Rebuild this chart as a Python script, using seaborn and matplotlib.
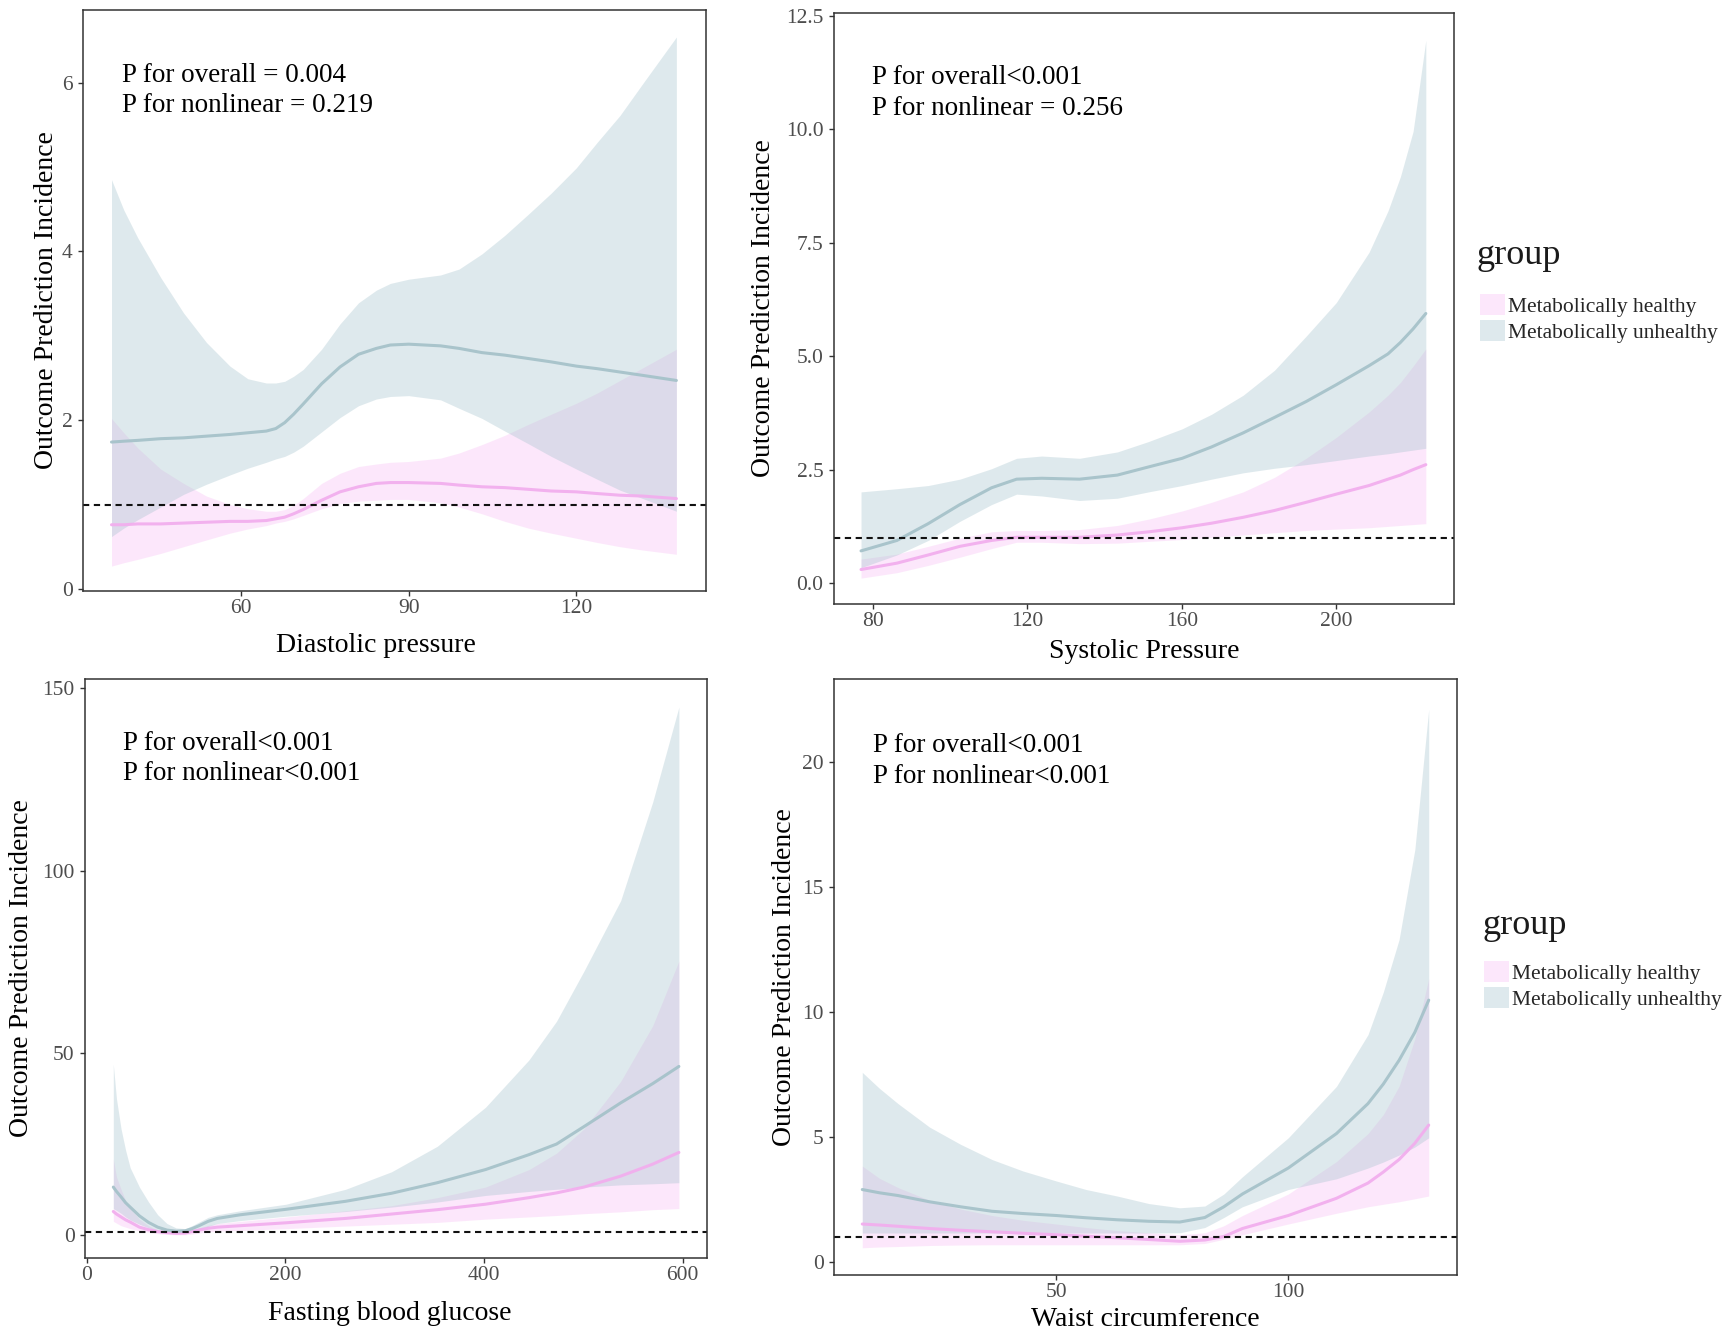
import numpy as np
import pandas as pd
import matplotlib
matplotlib.use("Agg")
import matplotlib.pyplot as plt
from matplotlib.patches import Patch
import seaborn as sns

# ---------------- data ----------------
groups = ["Metabolically healthy", "Metabolically unhealthy"]

# Diastolic pressure
dia_x = [36.8, 39, 41.5, 45.6, 49.7, 53.8, 58, 61.2, 64.5, 66.2, 67.8, 69.4, 71.1, 74.4, 77.7, 81, 84.2, 86.7,
         90, 95.7, 99, 103.1, 107.2, 111.4, 115.5, 120, 123.7, 127.8, 131.9, 137.9]
dia_h_fit = [0.76, 0.76, 0.77, 0.77, 0.78, 0.79, 0.80, 0.80, 0.81, 0.83, 0.85, 0.89, 0.94, 1.05, 1.15, 1.21, 1.25, 1.26,
             1.26, 1.25, 1.23, 1.21, 1.20, 1.18, 1.16, 1.15, 1.13, 1.11, 1.10, 1.07]
dia_h_lo = [0.27, 0.31, 0.35, 0.42, 0.50, 0.58, 0.66, 0.71, 0.75, 0.78, 0.80, 0.83, 0.87, 0.95, 1.01, 1.04, 1.05, 1.06,
            1.06, 1.02, 0.97, 0.89, 0.80, 0.72, 0.66, 0.60, 0.55, 0.50, 0.46, 0.41]
dia_h_hi = [2.02, 1.85, 1.67, 1.42, 1.25, 1.10, 1.00, 0.95, 0.92, 0.92, 0.94, 0.99, 1.07, 1.25, 1.37, 1.45, 1.48, 1.50,
            1.51, 1.55, 1.61, 1.71, 1.82, 1.95, 2.07, 2.20, 2.32, 2.47, 2.62, 2.84]
dia_u_fit = [1.74, 1.75, 1.76, 1.78, 1.79, 1.81, 1.83, 1.85, 1.87, 1.90, 1.97, 2.07, 2.19, 2.43, 2.63, 2.78, 2.85, 2.89,
             2.90, 2.88, 2.85, 2.80, 2.77, 2.73, 2.69, 2.64, 2.61, 2.57, 2.53, 2.47]
dia_u_lo = [0.62, 0.72, 0.82, 0.97, 1.12, 1.24, 1.35, 1.43, 1.50, 1.54, 1.57, 1.62, 1.69, 1.86, 2.03, 2.17, 2.25, 2.28,
            2.29, 2.24, 2.14, 2.02, 1.87, 1.72, 1.57, 1.42, 1.30, 1.17, 1.07, 0.92]
dia_u_hi = [4.85, 4.49, 4.16, 3.69, 3.27, 2.92, 2.64, 2.49, 2.44, 2.44, 2.46, 2.52, 2.60, 2.84, 3.14, 3.39, 3.54, 3.62,
            3.67, 3.72, 3.79, 3.97, 4.19, 4.44, 4.69, 4.99, 5.29, 5.61, 5.99, 6.54]

# Systolic pressure
sys_x = [76.9, 86.2, 94.3, 102.5, 110.7, 117.2, 123.7, 133.5, 143.3, 151.4, 160.1, 167.7, 175.9, 184,
         192.2, 200, 208.5, 213.4, 216.6, 219.9, 223.2]
sys_h_fit = [0.30, 0.44, 0.62, 0.81, 0.94, 1.01, 1.01, 1.01, 1.06, 1.13, 1.22, 1.32, 1.45, 1.60,
             1.78, 1.96, 2.15, 2.29, 2.38, 2.50, 2.61]
sys_h_lo = [0.11, 0.23, 0.39, 0.57, 0.76, 0.90, 0.90, 0.87, 0.88, 0.92, 0.96, 1.01, 1.06, 1.11,
            1.16, 1.19, 1.22, 1.25, 1.27, 1.29, 1.31]
sys_h_hi = [0.53, 0.64, 0.81, 0.99, 1.13, 1.16, 1.16, 1.18, 1.27, 1.41, 1.59, 1.78, 2.01, 2.33,
            2.75, 3.21, 3.77, 4.14, 4.42, 4.78, 5.16]
sys_u_fit = [0.71, 0.94, 1.31, 1.73, 2.10, 2.29, 2.31, 2.29, 2.38, 2.56, 2.75, 3.00, 3.31, 3.65,
             4.00, 4.37, 4.79, 5.05, 5.30, 5.60, 5.94]
sys_u_lo = [0.34, 0.62, 0.94, 1.36, 1.73, 1.96, 1.92, 1.82, 1.87, 2.01, 2.15, 2.29, 2.43, 2.53,
            2.61, 2.70, 2.80, 2.85, 2.89, 2.93, 2.97]
sys_u_hi = [2.01, 2.08, 2.15, 2.29, 2.52, 2.75, 2.80, 2.75, 2.89, 3.12, 3.40, 3.72, 4.14, 4.69,
            5.44, 6.18, 7.29, 8.20, 8.95, 9.95, 11.96]

# Fasting blood glucose
fbg_x = [26.8, 30, 34.6, 39.2, 43.8, 53.1, 62.3, 71.5, 80.8, 90, 99.2, 106.1, 113.1, 122.3, 131.5,
         154.6, 200.7, 260.7, 306.9, 353, 401.5, 445.3, 473, 500.7, 537.6, 569.9, 596.2]
fbg_h_fit = [6.5, 5.8, 5.0, 4.2, 3.6, 2.2, 1.5, 1.0, 0.7, 0.5, 0.6, 1.0, 1.4, 1.9, 2.2,
             2.6, 3.4, 4.6, 5.8, 7.0, 8.5, 10.3, 11.6, 13.2, 16.2, 19.5, 22.7]
fbg_h_lo = [3.8, 3.3, 2.6, 2.2, 1.8, 1.2, 0.8, 0.4, 0.2, 0.1, 0.1, 0.3, 0.6, 0.9, 1.1,
            1.3, 1.8, 2.5, 3.0, 3.5, 4.4, 5.0, 5.4, 5.9, 6.4, 7.0, 7.3]
fbg_h_hi = [20.9, 16.0, 12.6, 9.5, 7.3, 4.4, 2.6, 1.4, 0.9, 0.8, 0.8, 1.3, 2.0, 2.7, 3.2,
            3.8, 5.0, 6.7, 8.1, 10.3, 13.2, 18.0, 22.5, 29.2, 42.2, 57.5, 75.2]
fbg_u_fit = [13.2, 12.0, 10.5, 8.9, 7.7, 5.3, 3.5, 2.2, 1.4, 1.1, 1.2, 1.8, 2.6, 3.8, 4.6,
             5.6, 7.1, 9.3, 11.5, 14.4, 18.0, 22.1, 25.0, 29.8, 36.3, 41.6, 46.3]
fbg_u_lo = [7.3, 6.8, 6.0, 5.0, 4.2, 3.0, 2.0, 1.1, 0.7, 0.5, 0.5, 0.9, 1.4, 2.4, 3.2,
            4.0, 5.2, 6.5, 7.7, 9.1, 10.9, 12.0, 12.6, 13.2, 13.8, 14.1, 14.4]
fbg_u_hi = [46.9, 37.4, 29.2, 23.3, 18.5, 13.2, 9.1, 5.6, 3.2, 2.0, 1.8, 2.6, 3.6, 4.9, 5.6,
            6.7, 8.5, 12.6, 17.4, 24.4, 35.1, 48.1, 58.7, 72.5, 91.8, 118.9, 144.9]

# Waist circumference
wc_x = [8.1, 11.8, 15.8, 22.6, 29.3, 36.1, 42.8, 50, 56.4, 63.1, 69.9, 76.6, 82, 86.1, 90.1,
        100, 110.4, 117.2, 120.5, 123.9, 127.3, 130.3]
wc_h_fit = [1.52, 1.48, 1.43, 1.34, 1.27, 1.21, 1.15, 1.09, 1.03, 0.97, 0.90, 0.83, 0.88, 1.02, 1.34,
            1.86, 2.55, 3.16, 3.60, 4.10, 4.75, 5.48]
wc_h_lo = [0.57, 0.60, 0.62, 0.66, 0.68, 0.69, 0.69, 0.69, 0.69, 0.69, 0.69, 0.69, 0.74, 0.91, 1.09,
           1.52, 1.95, 2.21, 2.31, 2.41, 2.53, 2.64]
wc_h_hi = [3.84, 3.35, 2.98, 2.47, 2.12, 1.86, 1.67, 1.52, 1.38, 1.26, 1.17, 1.09, 1.17, 1.45, 1.86,
           2.72, 4.02, 5.14, 5.90, 7.03, 8.93, 11.34]
wc_u_fit = [2.90, 2.77, 2.66, 2.41, 2.21, 2.03, 1.94, 1.86, 1.77, 1.69, 1.63, 1.60, 1.78, 2.21, 2.72,
            3.76, 5.14, 6.34, 7.12, 8.07, 9.19, 10.48]
wc_u_lo = [1.16, 1.16, 1.16, 1.16, 1.16, 1.16, 1.16, 1.16, 1.16, 1.16, 1.16, 1.17, 1.38, 1.78, 2.21,
           2.90, 3.33, 3.76, 4.00, 4.28, 4.60, 4.97]
wc_u_hi = [7.59, 6.95, 6.34, 5.40, 4.71, 4.10, 3.64, 3.24, 2.90, 2.64, 2.34, 2.17, 2.24, 2.72, 3.41,
           4.97, 7.03, 9.10, 10.80, 12.90, 16.50, 22.12]

panel_xlabels = ["Diastolic pressure", "Systolic Pressure", "Fasting blood glucose", "Waist circumference"]
panel_p_overall = ["P for overall = 0.004", "P for overall<0.001", "P for overall<0.001", "P for overall<0.001"]
panel_p_nonlin = ["P for nonlinear = 0.219", "P for nonlinear = 0.256", "P for nonlinear<0.001", "P for nonlinear<0.001"]
panel_xticks = [[60, 90, 120], [80, 120, 160, 200], [0, 200, 400, 600], [50, 100]]
panel_yticks = [[0, 2, 4, 6], [0.0, 2.5, 5.0, 7.5, 10.0, 12.5], [0, 50, 100, 150], [0, 5, 10, 15, 20]]
panel_ytick_labels = [["0", "2", "4", "6"], ["0.0", "2.5", "5.0", "7.5", "10.0", "12.5"],
                      ["0", "50", "100", "150"], ["0", "5", "10", "15", "20"]]
ref_line = 1.0

# ---------------- style ----------------
sns.set_style("white")
plt.rcParams["font.family"] = ["Liberation Serif", "DejaVu Serif"]

W, H = 1724, 1335
fig = plt.figure(figsize=(W / 100, H / 100), dpi=100)

# axes boxes in pixels: (left, top, right, bottom)
boxes = [(83, 10, 706, 591), (834, 13, 1454, 604), (85, 679, 707, 1258), (834, 679, 1457, 1275)]
xlims = [(31.7, 143.2), (69.9, 230.5), (-1.7, 624.5), (2.0, 136.4)]
ylims = [(-0.025, 6.86), (-0.46, 12.56), (-6.26, 152.6), (-0.52, 23.33)]
ylab_x = [-0.038, -0.094, -0.0815, -0.0595]
xlab_pos = [(0.470, -0.072), (0.5, -0.060), (0.49, -0.075), (0.5, -0.054)]
txt_pos = [(0.063, 0.876, 0.825), (0.061, 0.880, 0.828), (0.061, 0.877, 0.826), (0.063, 0.877, 0.826)]

pink_base = "#F5A3F0"
blue_base = "#A3C2CC"
line_colors = {groups[0]: "#F2AEEE", groups[1]: "#A6C2CA"}

panels = [
    (dia_x, dia_h_fit, dia_h_lo, dia_h_hi, dia_u_fit, dia_u_lo, dia_u_hi),
    (sys_x, sys_h_fit, sys_h_lo, sys_h_hi, sys_u_fit, sys_u_lo, sys_u_hi),
    (fbg_x, fbg_h_fit, fbg_h_lo, fbg_h_hi, fbg_u_fit, fbg_u_lo, fbg_u_hi),
    (wc_x, wc_h_fit, wc_h_lo, wc_h_hi, wc_u_fit, wc_u_lo, wc_u_hi),
]

for i, (x, hf, hl, hh, uf, ul, uh) in enumerate(panels):
    l, t, r, b = boxes[i]
    ax = fig.add_axes([l / W, 1 - b / H, (r - l) / W, (b - t) / H])
    df = pd.DataFrame({
        "x": list(x) * 2,
        "fit": list(hf) + list(uf),
        "lo": list(hl) + list(ul),
        "hi": list(hh) + list(uh),
        "group": [groups[0]] * len(x) + [groups[1]] * len(x),
    })
    dh = df[df.group == groups[0]]
    du = df[df.group == groups[1]]
    ax.fill_between(dh.x, dh.lo, dh.hi, color=pink_base, alpha=0.25, linewidth=0)
    ax.fill_between(du.x, du.lo, du.hi, color=blue_base, alpha=0.35, linewidth=0)
    sns.lineplot(data=df, x="x", y="fit", hue="group", palette=line_colors,
                 estimator=None, linewidth=2.2, legend=False, ax=ax, alpha=0.95)
    ax.axhline(ref_line, color="#111111", linestyle=(0, (3, 2.2)), linewidth=1.5)

    ax.set_xlim(*xlims[i])
    ax.set_ylim(*ylims[i])
    ax.set_xticks(panel_xticks[i])
    ax.set_yticks(panel_yticks[i])
    ax.set_yticklabels(panel_ytick_labels[i])
    ax.tick_params(axis="both", which="major", labelsize=15.5, labelcolor="#4D4D4D",
                   color="#333333", length=3.5, width=1, direction="out",
                   bottom=True, left=True)
    ax.tick_params(axis="x", pad=2.5)
    ax.tick_params(axis="y", pad=4)
    for s in ax.spines.values():
        s.set_visible(True)
        s.set_color("#333333")
        s.set_linewidth(1.1)
    ax.set_facecolor("white")

    ax.set_xlabel(panel_xlabels[i], fontsize=20, color="black")
    ax.set_ylabel("Outcome Prediction Incidence", fontsize=20, color="black")
    ax.yaxis.set_label_coords(ylab_x[i], 0.5)
    ax.xaxis.set_label_coords(*xlab_pos[i])

    tx, ty1, ty2 = txt_pos[i]
    ax.text(tx, ty1, panel_p_overall[i], transform=ax.transAxes, fontsize=19.5,
            va="baseline", ha="left", color="black")
    ax.text(tx, ty2, panel_p_nonlin[i], transform=ax.transAxes, fontsize=19.5,
            va="baseline", ha="left", color="black")

# legends (title as text, keys as legend)
handles = [Patch(facecolor=pink_base, alpha=0.25, edgecolor="none"),
           Patch(facecolor=blue_base, alpha=0.35, edgecolor="none")]
legend_spots = [((1477, 264), (1480, 294)), ((1483, 934), (1484, 961))]
for (tx, tb), (kx, ky) in legend_spots:
    fig.text(tx / W, 1 - tb / H, "group", fontsize=26, va="baseline", ha="left", color="#1a1a1a")
    fig.legend(handles, groups, loc="upper left",
               bbox_to_anchor=(kx / W, 1 - ky / H), frameon=False,
               fontsize=15.5, handlelength=1.15, handleheight=1.15,
               handletextpad=0.15, labelspacing=0.12,
               borderpad=0, borderaxespad=0)

fig.savefig("out.png", dpi=100, facecolor="white")
